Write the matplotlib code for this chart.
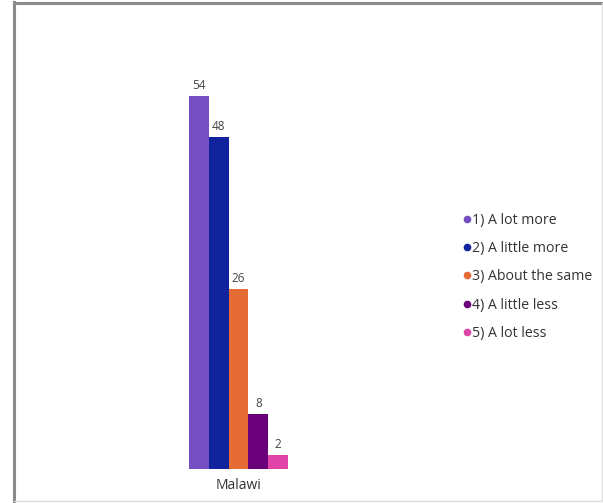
import matplotlib.pyplot as plt
from matplotlib.lines import Line2D

plt.rcParams['font.family'] = ['Open Sans', 'DejaVu Sans']

# answers for Malawi
categories = ['1) A lot more', '2) A little more', '3) About the same',
              '4) A little less', '5) A lot less']
values = [54, 48, 26, 8, 2]
colors = ['#744EC2', '#12239E', '#E66C37', '#6B007B', '#E044A7']
country = 'Malawi'

W, H = 603, 503
fig = plt.figure(figsize=(W / 100, H / 100), dpi=100)

# bars span 189..288 px, baseline at 469 px, top of 54 at 96 px
ax = fig.add_axes([189 / W, 1 - 469 / H, 99 / W, 373 / H])
x = range(len(values))
ax.bar(x, values, width=1.0, color=colors, linewidth=0)
for xi, v in zip(x, values):
    ax.text(xi, v + 0.6, str(v), ha='center', va='bottom', fontsize=8.5,
            color='#444444', clip_on=False)
ax.set_xlim(-0.5, 4.5)
ax.set_ylim(0, 54)
ax.axis('off')
ax.text(2, -1.3, country, ha='center', va='top', fontsize=10,
        color='#333333', clip_on=False)

handles = [Line2D([], [], marker='o', linestyle='', color=c, markersize=4.5)
           for c in colors]
fig.legend(handles, categories, loc='upper left',
           bbox_to_anchor=(456 / W, 1 - 206 / H), frameon=False,
           fontsize=10.2, labelcolor='#333333', handlelength=0.5,
           handletextpad=0.15, labelspacing=0.93, borderpad=0)

# frame around the panel
fig.add_artist(Line2D([13.5 / W, 13.5 / W], [0, 1 - 2 / H],
                      transform=fig.transFigure, color='#8a8a8a', lw=2.2))
fig.add_artist(Line2D([13.5 / W, 1], [1 - 2.5 / H, 1 - 2.5 / H],
                      transform=fig.transFigure, color='#8a8a8a', lw=2.2))
fig.add_artist(Line2D([601.5 / W, 601.5 / W], [1 - 501 / H, 1 - 3 / H],
                      transform=fig.transFigure, color='#dddddd', lw=1))
fig.add_artist(Line2D([13.5 / W, 1], [1 - 501 / H, 1 - 501 / H],
                      transform=fig.transFigure, color='#dddddd', lw=1))

fig.savefig('out.png', dpi=100)
